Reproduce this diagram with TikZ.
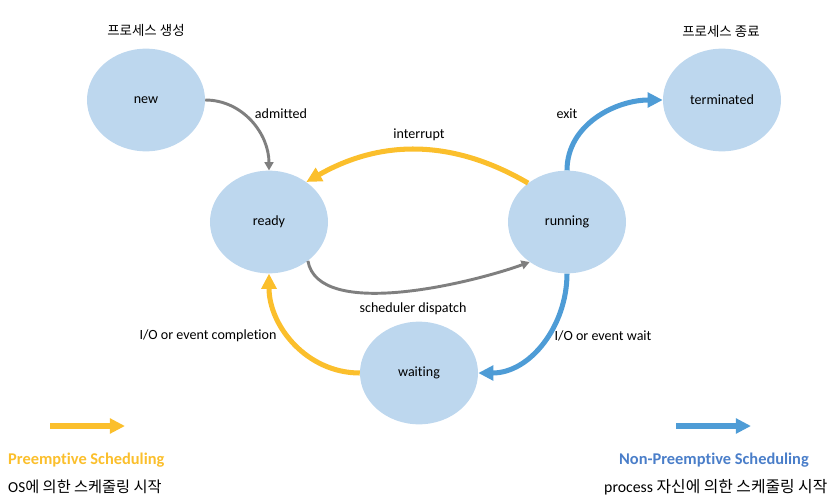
\documentclass[tikz,border=0pt]{standalone}
\usepackage{fontspec}
\setmainfont{Carlito}[Ligatures=NoCommon]
\newfontfamily\kr{Noto Sans CJK KR}
\usetikzlibrary{arrows.meta}
\usetikzlibrary{shapes.geometric}
\definecolor{statefill}{HTML}{BDD7EE}
\definecolor{arrowgray}{HTML}{7F7F7F}
\definecolor{arrowyellow}{HTML}{FBBF2C}
\definecolor{arrowblue}{HTML}{4E9CD6}
\definecolor{textblue}{HTML}{4A7EC9}
\tikzset{% 
	state/.style={ellipse,fill=statefill,minimum width=3.54cm,minimum height=3.08cm,font=\fontsize{12}{14}\selectfont},
	lbl/.style={inner sep=0pt,font=\fontsize{12}{14}\selectfont},
	krlbl/.style={inner sep=0pt,font=\kr\fontsize{11.5}{13}\selectfont},
	grayarrow/.style={line width=2.5pt,draw=arrowgray,-{Triangle[length=7pt,width=7.5pt]}},
	yellowarrow/.style={line width=4.3pt,draw=arrowyellow,-{Triangle[length=13pt,width=12.5pt]}},
	bluearrow/.style={line width=4.3pt,draw=arrowblue,-{Triangle[length=13pt,width=12.5pt]}}
}

\begin{document}
\begin{tikzpicture}[x=0.03cm,y=-0.03cm]
		\useasboundingbox (0,0) rectangle (830,499);

		\node [state] (new) at (146,100) {new};
		\node [state] (ready) at (269,222) {ready};
		\node [state] (running) at (567,222) {running};
		\node [state] (waiting) at (419,373) {waiting};
		\node [state] (terminated) at (722,100) {terminated};

		\node [krlbl] (createtxt) at (146,30) {프로세스 생성};
		\node [krlbl] (exittxt) at (721,31) {프로세스 종료};

		\draw [grayarrow] (new.east) to[out=0,in=90] (ready.north);
		\draw [grayarrow] (ready.-45) to[out=-80,in=200,looseness=0.7] (running.-133);
		\draw [yellowarrow] (running.135) to[bend right=30] (ready.47);
		\draw [yellowarrow] (waiting.west) to[out=180,in=-90] (ready.south);
		\draw [bluearrow] (running.north) to[out=90,in=180] (terminated.west);
		\draw [bluearrow] (running.south) to[out=-90,in=0] (waiting.east);

		\node [lbl] (admitted) at (281,114) {admitted};
		\node [lbl] (interrupt) at (419,135) {interrupt};
		\node [lbl] (exit) at (567,114) {exit};
		\node [lbl] (dispatch) at (413,309) {scheduler dispatch};
		\node [lbl] (completion) at (208,336) {I/O or event completion};
		\node [lbl] (wait) at (603,336) {I/O or event wait};

		\coordinate (ys) at (50,426);
		\coordinate (ye) at (125,426);
		\coordinate (bs) at (676,426);
		\coordinate (be) at (751,426);
		\draw [yellowarrow] (ys)--(ye);
		\draw [bluearrow] (bs)--(be);

		\node [inner sep=0pt,anchor=west,text=arrowyellow,font=\bfseries\fontsize{14}{16}\selectfont] (pre) at (8,460) {Preemptive Scheduling};
		\node [inner sep=0pt,anchor=west,font=\fontsize{13}{15}\selectfont] (pretxt) at (8,487) {OS{\kr 에 의한 스케줄링 시작}};
		\node [inner sep=0pt,anchor=east,text=textblue,font=\bfseries\fontsize{14}{16}\selectfont] (nonpre) at (809,460) {Non-Preemptive Scheduling};
		\node [inner sep=0pt,anchor=west,font=\fontsize{13.5}{15}\selectfont] (nonpretxt) at (604,487) {process {\kr 자신에 의한 스케줄링 시작}};

	\end{tikzpicture}
\end{document}
